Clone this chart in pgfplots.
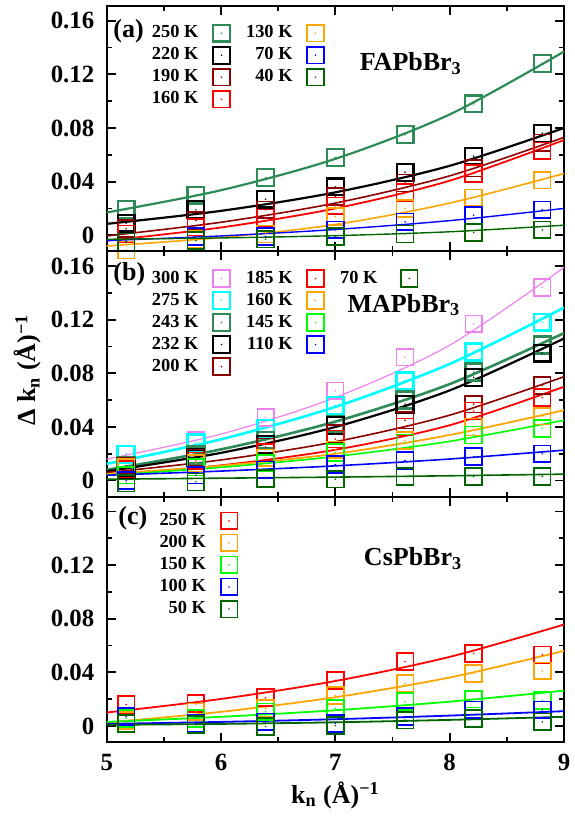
\documentclass[border=0pt]{standalone}
\usepackage{fontspec}
\setmainfont{Liberation Serif}
\usepackage{pgfplots}
\usepackage{pgfplotstable}
\pgfplotsset{compat=1.18}

\definecolor{seagreen}{HTML}{2E8B57}
\definecolor{dkred}{HTML}{8B0000}
\definecolor{orng}{HTML}{FFA500}
\definecolor{dkgreen}{HTML}{006400}
\definecolor{violetc}{HTML}{EE82EE}
\definecolor{cyanc}{HTML}{00FFFF}
\definecolor{limec}{HTML}{00FF00}
\definecolor{bluec}{HTML}{0000FF}
\definecolor{redc}{HTML}{FF0000}

\pgfdeclareplotmark{sqdot}{%
  \pgfpathrectangle{\pgfqpoint{-\pgfplotmarksize}{-\pgfplotmarksize}}{\pgfqpoint{2\pgfplotmarksize}{2\pgfplotmarksize}}%
  \pgfusepathqstroke
  \pgfpathcircle{\pgfpointorigin}{0.45pt}%
  \pgfusepathqfill
}

% ---------- data: panel (a) FAPbBr3 ----------
\pgfplotstableread{
x     a250   a220   a190   a160   a130    a70     a40
5.17  0.019  0.009  0.005  0.001  -0.011  -0.005  -0.005
5.78  0.030  0.019  0.011  0.006  -0.003  -0.001  -0.004
6.39  0.043  0.027  0.019  0.013  0.001   -0.001  -0.003
7.00  0.058  0.036  0.029  0.022  0.014   0.004   -0.001
7.61  0.075  0.047  0.039  0.032  0.020   0.010   0.001
8.21  0.098  0.059  0.050  0.046  0.028   0.015   0.002
8.81  0.128  0.076  0.069  0.063  0.041   0.019   0.004
}\dataA
\pgfplotstableread{
x   f250    f220    f190     f160    f130     f70      f40
5   0.017   0.0085  -0.0005  -0.004  -0.008   -0.004   -0.003
6   0.0336  0.0182  0.0097   0.0058  -0.0017  -0.0005  -0.002
7   0.057   0.032   0.024    0.020   0.008    0.0043   -0.0003
8   0.0901  0.0518  0.0443   0.0407  0.024    0.0109   0.0026
9   0.137   0.080   0.073    0.071   0.046    0.020    0.0075
}\fitA

% ---------- data: panel (b) MAPbBr3 ----------
\pgfplotstableread{
x     b300   b275    b243   b232    b200   b185    b160   b145   b110   b70
5.17  0.020  0.0195  0.011  0.0085  0.011  0.0085  0.010  0.004  0.000  -0.002
5.78  0.030  0.028   0.019  0.017   0.017  0.0147  0.013  0.010  0.004  -0.001
6.39  0.047  0.039   0.030  0.027   0.025  0.021   0.017  0.013  0.008  0.0015
7.00  0.067  0.056   0.042  0.041   0.035  0.031   0.023  0.021  0.012  0.001
7.61  0.092  0.0745  0.060  0.057   0.045  0.040   0.030  0.028  0.015  0.003
8.21  0.117  0.096   0.081  0.077   0.057  0.052   0.040  0.034  0.018  0.003
8.81  0.144  0.118   0.101  0.095   0.071  0.062   0.048  0.039  0.020  0.003
}\dataB
\pgfplotstableread{
x   f300    f275    f243    f232    f200    f185    f160    f145    f110    f70
5   0.016   0.0125  0.008   0.007   0.006   0.004   0.005   0.004   0.004   0.001
6   0.0347  0.0308  0.0233  0.0207  0.0154  0.0114  0.0111  0.0099  0.0071  0.0018
7   0.062   0.055   0.044   0.040   0.029   0.023   0.020   0.018   0.011   0.0026
8   0.101   0.087   0.072   0.0673  0.0488  0.0413  0.034   0.0293  0.0161  0.0036
9   0.159   0.129   0.110   0.106   0.0775  0.070   0.0525  0.045   0.0227  0.0048
}\fitB

% ---------- data: panel (c) CsPbBr3 ----------
\pgfplotstableread{
x     c250    c200    c150    c100   c50
5.17  0.016   0.004   0.0056  0.007  0.002
5.78  0.0165  0.0105  0.0056  0.002  0.001
6.39  0.021   0.013   0.0105  0.003  -0.0005
7.00  0.034   0.0226  0.013   0.002  0.0002
7.61  0.048   0.0316  0.018   0.007  0.0044
8.21  0.054   0.039   0.020   0.012  0.0056
8.81  0.053   0.041   0.019   0.012  0.003
}\dataC
\pgfplotstableread{
x   f250    f200    f150    f100    f50
5   0.010   0.0025  0.003   0.0015  0.0008
6   0.0201  0.0105  0.0068  0.003   0.0015
7   0.0335  0.0214  0.0117  0.005   0.0027
8   0.0515  0.0361  0.0181  0.0077  0.0045
9   0.0756  0.056   0.0263  0.011   0.0068
}\fitC

\pgfplotsset{
  panel/.style={
    scale only axis, width=228.65pt, height=122.67pt,
    xmin=5, xmax=9, ymin=-0.012, ymax=0.171,
    xtick={5,6,7,8,9}, minor x tick num=1,
    ytick={0,0.04,0.08,0.12,0.16}, yticklabels={0,0.04,0.08,0.12,0.16},
    minor y tick num=1,
    tick align=inside, major tick length=4.5pt, minor tick length=2.5pt,
    every tick/.append style={line width=0.9pt, black},
    axis line style={line width=1.1pt},
    yticklabel style={font=\fontsize{12.4}{14}\selectfont\bfseries, xshift=-2.7pt},
    xticklabel style={font=\fontsize{12.4}{14}\selectfont\bfseries, yshift=-2.4pt},
    legend plot pos=right, legend cell align=right,
    legend style={draw=none, fill=none, inner sep=0pt, outer sep=0pt, anchor=north west,
      font=\fontsize{9.2}{11}\selectfont\bfseries,
      row sep=-0.6pt,
      /tikz/every odd column/.append style={column sep=5.3pt},
      /tikz/every even column/.append style={column sep=6.1pt}},
  },
  pts/.style 2 args={only marks, mark=sqdot, mark size=4.2pt,
    mark options={draw=#1, fill=#1, line width=#2, solid}},
  ptsf/.style 2 args={pts={#1}{#2}, forget plot},
  fitl/.style 2 args={no marks, smooth, draw=#1, line width=#2, forget plot},
}

\begin{document}
\begin{tikzpicture}
% ================= (a) =================
\begin{axis}[panel, at={(53.35pt,-3pt)}, anchor=north west, xticklabels={},
  legend columns=2, legend style={at={(axis cs:5.361,0.1594)}}]
\addplot[ptsf={seagreen}{1.1pt}] table[x=x,y=a250]{\dataA};
\addplot[fitl={seagreen}{1.1pt}] table[x=x,y=f250]{\fitA};
\addplot[ptsf={black}{1.1pt}] table[x=x,y=a220]{\dataA};
\addplot[fitl={black}{1.1pt}] table[x=x,y=f220]{\fitA};
\addplot[ptsf={dkred}{0.8pt}] table[x=x,y=a190]{\dataA};
\addplot[fitl={dkred}{0.8pt}] table[x=x,y=f190]{\fitA};
\addplot[ptsf={redc}{0.8pt}] table[x=x,y=a160]{\dataA};
\addplot[fitl={redc}{0.9pt}] table[x=x,y=f160]{\fitA};
\addplot[ptsf={orng}{0.8pt}] table[x=x,y=a130]{\dataA};
\addplot[fitl={orng}{0.8pt}] table[x=x,y=f130]{\fitA};
\addplot[ptsf={bluec}{0.8pt}] table[x=x,y=a70]{\dataA};
\addplot[fitl={bluec}{0.7pt}] table[x=x,y=f70]{\fitA};
\addplot[ptsf={dkgreen}{0.8pt}] table[x=x,y=a40]{\dataA};
\addplot[fitl={dkgreen}{0.7pt}] table[x=x,y=f40]{\fitA};
\addlegendimage{pts={seagreen}{1.1pt}}\addlegendentry{250 K}
\addlegendimage{pts={orng}{0.8pt}}\addlegendentry{130 K}
\addlegendimage{pts={black}{1.1pt}}\addlegendentry{220 K}
\addlegendimage{pts={bluec}{0.8pt}}\addlegendentry{70 K}
\addlegendimage{pts={dkred}{0.8pt}}\addlegendentry{190 K}
\addlegendimage{pts={dkgreen}{0.8pt}}\addlegendentry{40 K}
\addlegendimage{pts={redc}{0.8pt}}\addlegendentry{160 K}
\node[anchor=west, inner sep=0pt, font=\fontsize{13}{15}\selectfont\bfseries] at (axis cs:5.055,0.1525) {(a)};
\node[font=\fontsize{13}{15}\selectfont\bfseries] at (axis cs:7.66,0.128) {FAPbBr\textsubscript{3}};
\end{axis}
% ================= (b) =================
\begin{axis}[panel, at={(53.35pt,-125.67pt)}, anchor=north west, xticklabels={},
  legend columns=3, legend style={at={(axis cs:5.361,0.1594)}}]
\addplot[ptsf={violetc}{0.7pt}] table[x=x,y=b300]{\dataB};
\addplot[fitl={violetc}{0.6pt}] table[x=x,y=f300]{\fitB};
\addplot[ptsf={cyanc}{1.3pt}] table[x=x,y=b275]{\dataB};
\addplot[fitl={cyanc}{1.3pt}] table[x=x,y=f275]{\fitB};
\addplot[ptsf={seagreen}{1.3pt}] table[x=x,y=b243]{\dataB};
\addplot[fitl={seagreen}{1.3pt}] table[x=x,y=f243]{\fitB};
\addplot[ptsf={black}{1.2pt}] table[x=x,y=b232]{\dataB};
\addplot[fitl={black}{1.1pt}] table[x=x,y=f232]{\fitB};
\addplot[ptsf={dkred}{0.8pt}] table[x=x,y=b200]{\dataB};
\addplot[fitl={dkred}{0.8pt}] table[x=x,y=f200]{\fitB};
\addplot[ptsf={redc}{0.8pt}] table[x=x,y=b185]{\dataB};
\addplot[fitl={redc}{0.9pt}] table[x=x,y=f185]{\fitB};
\addplot[ptsf={orng}{0.8pt}] table[x=x,y=b160]{\dataB};
\addplot[fitl={orng}{0.9pt}] table[x=x,y=f160]{\fitB};
\addplot[ptsf={limec}{0.8pt}] table[x=x,y=b145]{\dataB};
\addplot[fitl={limec}{0.8pt}] table[x=x,y=f145]{\fitB};
\addplot[ptsf={bluec}{0.8pt}] table[x=x,y=b110]{\dataB};
\addplot[fitl={bluec}{0.8pt}] table[x=x,y=f110]{\fitB};
\addplot[ptsf={dkgreen}{0.8pt}] table[x=x,y=b70]{\dataB};
\addplot[fitl={dkgreen}{0.8pt}] table[x=x,y=f70]{\fitB};
\addlegendimage{pts={violetc}{0.7pt}}\addlegendentry{300 K}
\addlegendimage{pts={redc}{0.8pt}}\addlegendentry{185 K}
\addlegendimage{pts={dkgreen}{0.8pt}}\addlegendentry{70 K}
\addlegendimage{pts={cyanc}{1.3pt}}\addlegendentry{275 K}
\addlegendimage{pts={orng}{0.8pt}}\addlegendentry{160 K}
\addlegendimage{empty legend}\addlegendentry{}
\addlegendimage{pts={seagreen}{1.3pt}}\addlegendentry{243 K}
\addlegendimage{pts={limec}{0.8pt}}\addlegendentry{145 K}
\addlegendimage{empty legend}\addlegendentry{}
\addlegendimage{pts={black}{1.2pt}}\addlegendentry{232 K}
\addlegendimage{pts={bluec}{0.8pt}}\addlegendentry{110 K}
\addlegendimage{empty legend}\addlegendentry{}
\addlegendimage{pts={dkred}{0.8pt}}\addlegendentry{200 K}
\node[anchor=west, inner sep=0pt, font=\fontsize{13}{15}\selectfont\bfseries] at (axis cs:5.055,0.1538) {(b)};
\node[font=\fontsize{13}{15}\selectfont\bfseries] at (axis cs:7.6,0.131) {MAPbBr\textsubscript{3}};
\end{axis}
% ================= (c) =================
\begin{axis}[panel, at={(53.35pt,-248.33pt)}, anchor=north west,
  xticklabels={5,6,7,8,9},
  legend columns=1, legend style={at={(axis cs:5.427,0.1616)}}]
\addplot[ptsf={redc}{0.9pt}] table[x=x,y=c250]{\dataC};
\addplot[fitl={redc}{0.9pt}] table[x=x,y=f250]{\fitC};
\addplot[ptsf={orng}{0.9pt}] table[x=x,y=c200]{\dataC};
\addplot[fitl={orng}{0.9pt}] table[x=x,y=f200]{\fitC};
\addplot[ptsf={limec}{0.9pt}] table[x=x,y=c150]{\dataC};
\addplot[fitl={limec}{0.9pt}] table[x=x,y=f150]{\fitC};
\addplot[ptsf={bluec}{0.9pt}] table[x=x,y=c100]{\dataC};
\addplot[fitl={bluec}{0.9pt}] table[x=x,y=f100]{\fitC};
\addplot[ptsf={dkgreen}{0.9pt}] table[x=x,y=c50]{\dataC};
\addplot[fitl={dkgreen}{0.9pt}] table[x=x,y=f50]{\fitC};
\addlegendimage{pts={redc}{0.9pt}}\addlegendentry{250 K}
\addlegendimage{pts={orng}{0.9pt}}\addlegendentry{200 K}
\addlegendimage{pts={limec}{0.9pt}}\addlegendentry{150 K}
\addlegendimage{pts={bluec}{0.9pt}}\addlegendentry{100 K}
\addlegendimage{pts={dkgreen}{0.9pt}}\addlegendentry{50 K}
\node[anchor=west, inner sep=0pt, font=\fontsize{13}{15}\selectfont\bfseries] at (axis cs:5.099,0.1546) {(c)};
\node[font=\fontsize{13}{15}\selectfont\bfseries] at (axis cs:7.68,0.125) {CsPbBr\textsubscript{3}};
\end{axis}
% axis titles
\node[rotate=90, font=\fontsize{13}{15}\selectfont\bfseries] at (14pt,-185pt) {Δ k\textsubscript{n} (Å)\textsuperscript{−1}};
\node[font=\fontsize{13}{15}\selectfont\bfseries] at (167.7pt,-397.5pt) {k\textsubscript{n} (Å)\textsuperscript{−1}};
\pgfresetboundingbox
\path (0,0) rectangle (287pt,-409.5pt);
\end{tikzpicture}
\end{document}
